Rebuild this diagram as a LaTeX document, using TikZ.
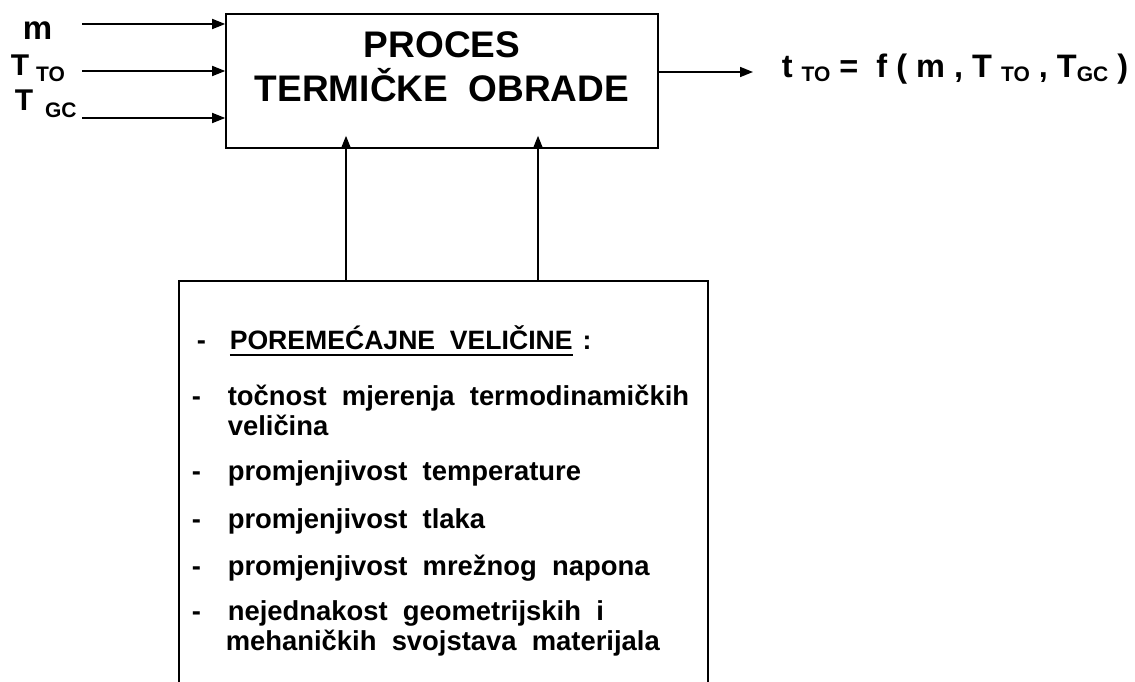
\documentclass[tikz,border=0pt]{standalone}
\usepackage{fontspec}
\setmainfont{Liberation Sans}
\usetikzlibrary{arrows.meta}
\newcommand\subx[2][5pt]{\raisebox{-#1}{\fontsize{21}{21}\selectfont #2}}
\newcommand\ulbox[1]{\setbox0\hbox{#1}\rlap{\rule[-7pt]{\wd0}{1.8pt}}\box0}
\begin{document}
\begin{tikzpicture}[x=1pt,y=-1pt,line width=1.6pt,
  arr/.style={-{Triangle[length=13pt,width=10pt]}},
  lbl/.style={font=\fontsize{30}{30}\selectfont\bfseries,inner sep=0,anchor=base west},
  fml/.style={font=\fontsize{32.5}{32.5}\selectfont\bfseries,inner sep=0,anchor=base west},
  ttl/.style={font=\fontsize{37}{37}\selectfont\bfseries,inner sep=0,anchor=base},
  itm/.style={font=\fontsize{27.4}{27.4}\selectfont\bfseries,inner sep=0,anchor=base west},
  blk/.style={draw,inner sep=0,fill=none}]
\useasboundingbox (0,0) rectangle (1135,682);
% main process box
\node[blk,minimum width=432pt,minimum height=134pt] (proc) at (442,81) {};
\node[ttl] (ttl1) at (442,58) {PROCES};
\node[ttl] (ttl2) at (442,102) {TERMIČKE\ \ OBRADE};
% disturbance box (bottom edge outside the page)
\node[blk,minimum width=529pt,minimum height=440pt,anchor=north west] (dist) at (178,280) {};
% inputs
\node[lbl,font=\fontsize{33}{33}\selectfont\bfseries] (lm) at (22,40) {m};
\node[lbl] (lto) at (10,76) {T\kern7pt\subx[6pt]{TO}};
\node[lbl] (lgc) at (14,111) {T\kern12pt\subx[6pt]{GC}};
\coordinate (i1) at (82,24);
\coordinate (i2) at (82,71);
\coordinate (i3) at (82,118);
\draw[arr] (i1) -- (i1 -| proc.west);
\draw[arr] (i2) -- (i2 -| proc.west);
\draw[arr] (i3) -- (i3 -| proc.west);
% output
\coordinate (o1) at (753,72);
\draw[arr] (proc.east |- o1) -- (o1);
\node[fml] (out) at (781,78) {t \subx[4pt]{TO} = \ f ( m , T \subx[4pt]{TO} , T\subx[4pt]{GC} )};
% disturbances into the process
\coordinate (c1) at (346,280);
\coordinate (c2) at (538,280);
\draw[arr] (c1) -- ([yshift=13pt]c1 |- proc.south);
\draw[arr] (c2) -- ([yshift=13pt]c2 |- proc.south);
% list
\node[itm] (h0) at (196,349) {-};
\node[itm,font=\fontsize{26.6}{26.6}\selectfont\bfseries] (h1) at (229,349) {\ulbox{POREMEĆAJNE\ \ VELIČINE}\hspace{10pt}:};
\node[itm] (d1) at (191,405) {-};
\node[itm] (t1) at (227,405) {točnost\ \ mjerenja\ \ termodinamičkih};
\node[itm] (t1b) at (227,435) {veličina};
\node[itm] (d2) at (191,480) {-};
\node[itm] (t2) at (227,480) {promjenjivost\ \ temperature};
\node[itm] (d3) at (191,528) {-};
\node[itm] (t3) at (227,528) {promjenjivost\ \ tlaka};
\node[itm] (d4) at (191,575) {-};
\node[itm] (t4) at (227,575) {promjenjivost\ \ mrežnog\ \ napona};
\node[itm] (d5) at (191,620) {-};
\node[itm] (t5) at (227,620) {nejednakost\ \ geometrijskih\ \ i};
\node[itm] (t5b) at (225,650) {mehaničkih\ \ svojstava\ \ materijala};
\end{tikzpicture}
\end{document}
